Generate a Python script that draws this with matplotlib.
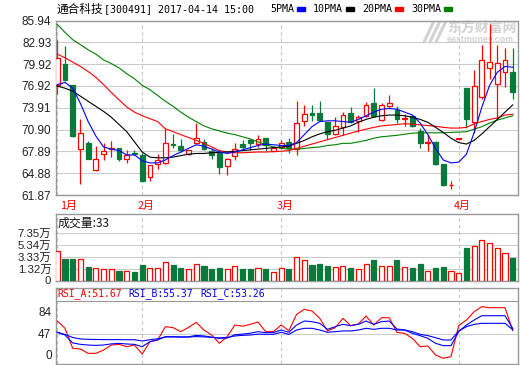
import numpy as np
import matplotlib
matplotlib.use('Agg')
import matplotlib.pyplot as plt
from matplotlib.patches import Rectangle
from matplotlib.transforms import blended_transform_factory

plt.rcParams['font.family'] = ['Liberation Sans', 'Noto Sans CJK SC']

# 日K数据 (从截图读取, 60个交易日)
opens = [77.1, 80.0, 77.1, 68.2, 69.05, 65.3, 67.5, 68.2, 68.4, 66.85,
         67.6, 67.45, 64.4, 66.2, 66.3, 68.95, 68.65, 67.5, 69.1, 69.15,
         67.9, 67.8, 65.85, 67.25, 68.85, 69.5, 68.85, 69.75, 68.0, 68.5,
         69.2, 68.25, 72.1, 73.15, 73.15, 71.95, 70.35, 71.25, 73.15, 72.1,
         72.75, 74.55, 72.15, 74.2, 73.6, 72.3, 72.75, 70.75, 69.1, 69.2,
         66.1, 63.2, 69.65, 76.6, 71.95, 75.4, 79.4, 77.2, 78.8, 78.8]
highs = [83.3, 82.4, 77.1, 72.4, 69.3, 68.6, 69.0, 69.3, 68.4, 68.1,
         68.1, 67.7, 66.0, 67.5, 71.15, 70.25, 69.55, 68.1, 71.8, 69.65,
         68.3, 67.9, 66.95, 69.1, 69.4, 69.6, 70.2, 69.8, 68.6, 69.5,
         69.8, 74.9, 74.25, 74.35, 74.9, 72.0, 72.6, 73.3, 74.0, 72.85,
         74.7, 76.6, 74.55, 75.6, 74.1, 73.1, 72.85, 71.1, 70.3, 69.3,
         66.2, 63.8, 69.65, 76.6, 79.05, 82.55, 85.5, 82.55, 82.15, 82.15]
lows = [75.8, 77.6, 69.9, 63.4, 66.8, 65.15, 66.7, 67.1, 66.6, 66.35,
        67.4, 63.6, 63.75, 65.4, 66.2, 68.4, 67.75, 67.4, 68.95, 68.05,
        66.9, 64.75, 64.6, 66.75, 68.2, 68.1, 68.5, 68.0, 67.9, 68.25,
        67.6, 67.35, 71.35, 72.1, 72.15, 69.65, 70.1, 70.1, 71.8, 70.55,
        72.6, 72.6, 72.1, 73.9, 71.8, 71.35, 71.2, 68.3, 68.0, 66.0,
        63.1, 62.65, 69.65, 71.1, 70.4, 75.15, 77.9, 72.4, 76.75, 75.15]
closes = [80.8, 77.75, 70.0, 70.4, 66.9, 66.8, 67.9, 68.3, 66.8, 67.45,
          67.5, 63.75, 66.0, 66.75, 69.0, 68.7, 68.05, 68.05, 69.8, 68.2,
          67.35, 65.75, 66.9, 68.25, 68.5, 69.05, 69.65, 68.7, 68.4, 69.05,
          68.4, 71.8, 73.1, 72.95, 72.15, 70.35, 71.35, 72.95, 71.95, 72.65,
          74.25, 72.75, 74.25, 74.5, 72.3, 72.5, 71.35, 69.05, 69.2, 66.1,
          63.2, 63.3, 69.65, 72.4, 76.9, 80.55, 80.2, 80.05, 80.5, 76.05]

# 均线
ma5 = [77.1, 77.4, 76.6, 74.5, 72.0, 70.0, 68.5, 68.2, 68.0, 67.4,
       67.4, 66.6, 66.3, 66.3, 66.7, 67.3, 67.8, 68.3, 68.8, 68.6,
       68.2, 67.8, 67.6, 67.8, 68.1, 68.4, 68.7, 68.9, 68.8, 68.7,
       68.7, 69.1, 70.2, 71.3, 72.0, 72.1, 72.1, 72.0, 71.9, 72.3,
       72.8, 73.3, 73.7, 73.8, 73.7, 73.3, 72.9, 71.8, 70.2, 68.3,
       66.7, 66.3, 66.4, 67.5, 70.5, 74.0, 77.0, 78.8, 79.6, 79.5]
ma10 = [76.9, 76.6, 76.2, 75.5, 74.8, 74.1, 73.4, 72.6, 71.6, 70.6,
        69.2, 67.8, 67.1, 67.0, 67.0, 67.1, 67.3, 67.5, 67.6, 67.6,
        67.7, 67.75, 67.8, 67.9, 68.0, 68.1, 68.2, 68.3, 68.4, 68.5,
        68.6, 69.0, 69.4, 69.9, 70.3, 70.6, 70.8, 71.1, 71.4, 71.9,
        72.3, 72.6, 72.8, 72.9, 72.9, 72.8, 72.6, 72.3, 71.9, 71.2,
        70.5, 69.7, 69.1, 68.9, 69.4, 70.3, 71.3, 72.3, 73.3, 74.3]
ma20 = [81.3, 80.8, 80.2, 79.6, 78.9, 78.1, 77.1, 76.0, 75.0, 74.0,
        73.3, 72.8, 72.4, 72.0, 71.0, 70.6, 70.2, 69.8, 69.4, 69.0,
        68.5, 68.0, 67.8, 67.7, 67.7, 67.75, 67.8, 67.8, 67.85, 67.9,
        68.0, 68.3, 68.6, 68.9, 69.2, 69.5, 69.8, 70.1, 70.4, 70.7,
        70.95, 71.2, 71.4, 71.5, 71.6, 71.7, 71.65, 71.55, 71.45, 71.35,
        71.2, 71.1, 71.1, 71.2, 71.7, 72.0, 72.3, 72.5, 72.9, 73.0]
ma30 = [85.4, 84.3, 83.3, 82.6, 81.9, 81.3, 80.5, 80.0, 79.4, 78.6,
        77.9, 77.0, 76.4, 75.6, 74.8, 74.1, 73.3, 72.6, 72.0, 71.4,
        71.0, 70.7, 70.4, 70.2, 69.9, 69.6, 69.2, 68.8, 68.5, 68.3,
        68.2, 68.2, 68.3, 68.4, 68.5, 68.7, 68.8, 69.0, 69.0, 69.2,
        69.4, 69.7, 69.9, 70.0, 70.1, 70.25, 70.4, 70.45, 70.45, 70.45,
        70.45, 70.5, 70.55, 70.6, 70.95, 71.3, 71.8, 72.2, 72.5, 72.8]

# 成交量 (万)
volume = [4.95, 3.62, 3.62, 3.57, 2.23, 2.03, 1.87, 1.87, 1.62, 1.62,
          1.46, 2.54, 2.03, 2.03, 3.10, 2.54, 2.08, 1.87, 2.80, 2.38,
          1.92, 2.08, 1.87, 2.33, 1.92, 1.92, 2.10, 1.92, 1.41, 2.03,
          1.92, 3.87, 3.41, 2.54, 2.69, 2.38, 2.18, 2.49, 2.08, 1.87,
          2.80, 3.46, 2.33, 2.49, 3.46, 2.18, 2.03, 2.69, 1.56, 2.08,
          2.23, 1.56, 1.26, 5.46, 5.72, 6.65, 6.18, 5.46, 4.65, 3.77]

# RSI
rsi_a = [67.6, 55.6, 22.7, 21.6, 14.4, 14.4, 19.9, 28.1, 29.2, 25.4,
         28.1, 13.3, 33.6, 36.4, 58.3, 56.7, 50.1, 57.0, 65.4, 52.8,
         44.6, 30.9, 41.8, 61.0, 59.0, 62.1, 66.0, 50.1, 50.1, 61.0,
         51.7, 78.5, 86.8, 84.0, 72.0, 51.2, 56.7, 72.0, 60.0, 62.7,
         75.8, 61.0, 73.0, 73.0, 48.9, 47.3, 39.1, 25.4, 26.5, 11.7,
         6.3, 9.0, 60.0, 69.2, 82.9, 91.2, 89.5, 89.5, 89.5, 51.67]
rsi_b = [49.0, 44.6, 31.5, 29.2, 28.1, 27.5, 28.1, 30.0, 30.9, 29.8,
         29.2, 25.4, 33.6, 36.4, 41.8, 41.8, 41.3, 41.5, 44.0, 43.0,
         41.0, 39.2, 39.5, 45.0, 46.0, 47.5, 50.0, 48.5, 48.5, 52.8,
         49.0, 61.0, 67.6, 66.5, 63.8, 53.9, 58.3, 62.1, 60.0, 62.1,
         67.6, 62.1, 66.5, 67.6, 54.5, 52.8, 47.3, 43.5, 39.1, 30.9,
         27.1, 27.1, 50.1, 61.0, 69.2, 76.3, 76.3, 76.3, 76.3, 55.37]
rsi_c = [49.0, 45.5, 40.5, 38.1, 37.5, 37.2, 37.0, 37.0, 37.0, 36.8,
         36.8, 34.8, 36.8, 38.5, 41.3, 41.5, 41.3, 41.3, 42.0, 41.5,
         40.8, 39.8, 40.5, 43.0, 44.0, 44.6, 46.0, 45.7, 45.7, 49.0,
         45.7, 52.8, 55.6, 55.6, 52.8, 49.0, 50.1, 51.2, 51.2, 52.8,
         55.6, 53.9, 55.6, 55.6, 52.8, 52.8, 50.1, 45.7, 43.5, 40.2,
         36.4, 36.4, 51.2, 58.3, 62.1, 63.8, 63.8, 63.8, 63.8, 53.26]

month_names = ['1月', '2月', '3月', '4月']
month_start = [0, 11, 29, 52]
price_ticks = [61.87, 64.88, 67.89, 70.90, 73.91, 76.92, 79.92, 82.93, 85.94]
vol_ticks = [1.32, 3.33, 5.34, 7.35]
vol_labels = ['1.32万', '3.33万', '5.34万', '7.35万']
rsi_ticks = [47, 84]

RED = '#ff0000'
GREEN = '#0a7a3c'
BLUE = '#0000ff'
GRID = '#cccccc'
EDGE = '#999999'

W, H = 520, 365
fig = plt.figure(figsize=(W / 100, H / 100), dpi=100)


def add_ax(l, t, r, b):
    return fig.add_axes([l / W, 1 - b / H, (r - l) / W, (b - t) / H])


def ftext(x, y, s, **kw):
    return fig.text(x / W, 1 - y / H, s, **kw)


ax = add_ax(55.5, 20.5, 518, 195)
axv = add_ax(55.5, 214, 518, 280.5)
axr = add_ax(55.5, 287.5, 518, 364)

o = np.array(opens)
c = np.array(closes)
x = np.arange(len(o))
up = c >= o
cols = np.where(up, RED, GREEN)
fills = np.where(up, 'white', GREEN)

for a in (ax, axv, axr):
    a.set_xlim(-0.23, 59.68)
    a.set_xticks([])
    a.tick_params(axis='y', length=0, pad=3, labelsize=8.5, labelcolor='#222222')
    for s in a.spines.values():
        s.set_color(EDGE)
        s.set_linewidth(1)
    for m in month_start:
        a.axvline(m, color='#c4c4c4', lw=0.8, ls=(0, (3, 3)), zorder=1)

# K线
ax.set_ylim(61.87, 85.94)
ax.set_yticks(price_ticks)
ax.set_yticklabels(['%.2f' % t for t in price_ticks])
for t in price_ticks:
    ax.axhline(t, color=GRID, lw=0.8, zorder=0)
ax.vlines(x, lows, highs, colors=cols, lw=0.9, zorder=2)
body_lo = np.minimum(o, c)
body_h = np.maximum(np.abs(c - o), 0.04)
ax.bar(x, body_h, bottom=body_lo, width=0.62, color=fills, edgecolor=cols,
       linewidth=0.9, zorder=3)
ax.plot(x, ma30, color='#008000', lw=0.8, zorder=4)
ax.plot(x, ma20, color=RED, lw=0.8, zorder=4)
ax.plot(x, ma10, color='black', lw=0.8, zorder=4)
ax.plot(x, ma5, color=BLUE, lw=0.8, zorder=4)

# 月份
tr = blended_transform_factory(ax.transData, fig.transFigure)
for name, m in zip(month_names, month_start):
    if m == 0:
        ax.text(m + 0.3, 1 - 206 / H, name, transform=tr, ha='left', va='center',
                color=RED, fontsize=7.8, family=['Noto Sans CJK SC'])
    else:
        ax.text(m + 0.45, 1 - 206 / H, name, transform=tr, ha='center', va='center',
                color=RED, fontsize=7.8, family=['Noto Sans CJK SC'])

# 水印
wm = '#d2d2d2'
ax.text(447 / W, 1 - 28 / H, '东方财富网', transform=fig.transFigure, color=wm,
        fontsize=10.0, fontweight='bold', family=['Noto Sans CJK SC'],
        ha='left', va='center', zorder=1)
ax.text(447 / W, 1 - 39.5 / H, 'eastmoney.com', transform=fig.transFigure, color=wm,
        fontsize=6.4, fontweight='bold', ha='left', va='center', zorder=1)
for dx in (0, 6, 12):
    ax.plot([(424 + dx) / W, (434 + dx) / W], [1 - 42 / H, 1 - 21 / H],
            transform=fig.transFigure, color=wm, lw=2.2, zorder=1,
            solid_capstyle='round')

# 成交量 (0 落在面板底边)
vol_bottom = -0.59
axv.set_ylim(vol_bottom, 10.46)
axv.set_yticks([vol_bottom] + vol_ticks)
axv.set_yticklabels(['0'] + vol_labels)
for t in vol_ticks:
    axv.axhline(t, color=GRID, lw=0.8, zorder=0)
axv.bar(x, volume, bottom=vol_bottom, width=0.66, color=fills, edgecolor=cols,
        linewidth=0.9, zorder=3)
axv.tick_params(axis='y', labelsize=8.2)
axv.text(0.004, 0.87, '成交量:33', transform=axv.transAxes, fontsize=8.6,
         family=['Noto Sans CJK SC'], ha='left', va='center', color='#111111')

# RSI
axr.set_ylim(-3.1, 122.7)
axr.set_yticks(rsi_ticks)
axr.axhline(47, color=GRID, lw=0.8, zorder=0)
axr.axhline(101, color=EDGE, lw=0.8, zorder=0)
axr.text(-3.5 / 462.5, 0, '0', transform=blended_transform_factory(axr.transAxes, axr.transData),
         ha='right', va='bottom', fontsize=8.5, color='#222222')
axr.plot(x, rsi_a, color=RED, lw=0.8, zorder=4)
axr.plot(x, rsi_b, color=BLUE, lw=0.8, zorder=4)
axr.plot(x, rsi_c, color=BLUE, lw=0.8, zorder=4)
mono = ['DejaVu Sans Mono']
ftext(57.5, 293.5, 'RSI_A:%.2f' % rsi_a[-1], color=RED, fontsize=7.0, family=mono, va='center')
ftext(128.5, 293.5, 'RSI_B:%.2f' % rsi_b[-1], color=BLUE, fontsize=7.0, family=mono, va='center')
ftext(200, 293.5, 'RSI_C:%.2f' % rsi_c[-1], color=BLUE, fontsize=7.0, family=mono, va='center')

# 标题栏
ftext(56.5, 9.2, '通合科技', fontsize=8.4, family=['Noto Sans CJK SC'], va='center', color='black')
ftext(103.5, 9.5, '[300491] 2017-04-14 15:00', fontsize=7.2, family=mono, va='center', color='black')
legend_items = [('5PMA', BLUE, 270), ('10PMA', 'black', 313), ('20PMA', RED, 362), ('30PMA', '#008000', 411)]
for label, col, px in legend_items:
    ftext(px, 9.5, label, fontsize=7.2, family=mono, va='center', color='black')
    wpx = len(label) * 6.0
    fig.patches.append(Rectangle(((px + wpx + 3) / W, 1 - 11 / H), 8 / W, 3.5 / H,
                                 transform=fig.transFigure, color=col))

fig.savefig('out.png', dpi=100)
